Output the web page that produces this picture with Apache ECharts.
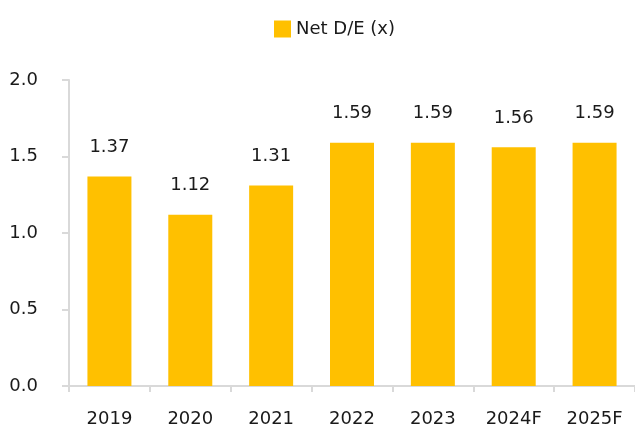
<!DOCTYPE html>
<html>
<head>
<meta charset="utf-8">
<script src="https://cdn.jsdelivr.net/npm/echarts@6/dist/echarts.min.js"></script>
<style>
  html, body { margin: 0; padding: 0; background: #fff; }
  #chart { width: 635px; height: 432px; }
</style>
</head>
<body>
<div id="chart"></div>
<script>
// data
const categories = ['2019', '2020', '2021', '2022', '2023', '2024F', '2025F'];
const netDebtToEquity = [1.37, 1.12, 1.31, 1.59, 1.59, 1.56, 1.59];
const seriesName = 'Net D/E (x)';

const font = 'DejaVu Sans';
const axisGray = '#d9d9d9';
const gold = '#FFC000';

const chart = echarts.init(document.getElementById('chart'), null, {renderer: 'canvas'});

chart.setOption({
    animation: false,
    textStyle: {fontFamily: font},
    legend: {
        data: [seriesName],
        left: 269,
        top: 15,
        icon: 'rect',
        itemWidth: 17,
        itemHeight: 17,
        textStyle: {fontFamily: font, fontSize: 18, color: '#1a1a1a'},
    },
    grid: {
        left: 69,
        right: 0,
        top: 80,
        bottom: 46,
        containLabel: false,
    },
    xAxis: {
        type: 'category',
        data: categories,
        axisLine: {show: true, lineStyle: {color: axisGray, width: 2}},
        axisTick: {show: true, length: 6, lineStyle: {color: axisGray, width: 2}},
        axisLabel: {margin: 24, fontFamily: font, fontSize: 18, color: '#1a1a1a'},
    },
    yAxis: {
        type: 'value',
        min: 0,
        max: 2,
        interval: 0.5,
        axisLine: {show: true, lineStyle: {color: axisGray, width: 2}},
        axisTick: {show: true, length: 7, lineStyle: {color: axisGray, width: 2}},
        splitLine: {show: false},
        axisLabel: {
            margin: 31,
            fontFamily: font,
            fontSize: 18,
            color: '#1a1a1a',
            formatter: v => v.toFixed(1),
        },
    },
    series: [{
        name: seriesName,
        type: 'bar',
        data: netDebtToEquity,
        barWidth: 44,
        itemStyle: {color: gold},
        label: {
            show: true,
            position: 'top',
            distance: 20,
            fontFamily: font,
            fontSize: 18,
            color: '#1a1a1a',
            formatter: p => p.value.toFixed(2),
        },
    }],
});
</script>
</body>
</html>
